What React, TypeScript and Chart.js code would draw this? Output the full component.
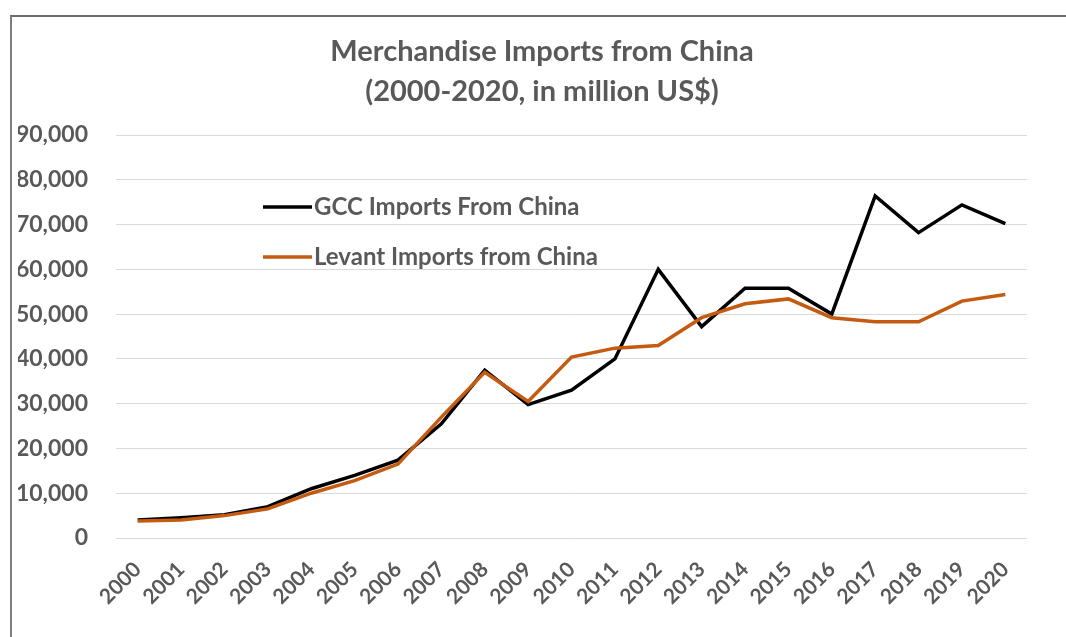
import React, { useEffect, useRef } from "react";
import { Chart, registerables } from "chart.js";

Chart.register(...registerables);

const years = [
  "2000", "2001", "2002", "2003", "2004", "2005", "2006", "2007", "2008", "2009", "2010",
  "2011", "2012", "2013", "2014", "2015", "2016", "2017", "2018", "2019", "2020",
];
const gccImports = [
  4000, 4500, 5200, 7000, 11000, 14000, 17400, 25500, 37500, 29800, 33000,
  40000, 60000, 47200, 55800, 55800, 50000, 76400, 68200, 74400, 70200,
];
const levantImports = [
  3800, 4000, 5000, 6500, 10000, 12800, 16500, 27000, 37000, 30500, 40400,
  42400, 43000, 49200, 52300, 53400, 49200, 48300, 48300, 52900, 54400,
];
const seriesLabels = ["GCC Imports From China", "Levant Imports from China"];
const titleLines = ["Merchandise Imports from China", "(2000-2020, in million US$)"];

const GRAY = "#595959";
const FONT = "Lato";

const insideLegend = {
  id: "insideLegend",
  afterDraw(chart: any) {
    const { ctx, chartArea, data } = chart;
    const x0 = chartArea.left + 147;
    const rows = [chartArea.top + 72, chartArea.top + 122];
    ctx.save();
    data.datasets.forEach((ds: any, i: number) => {
      const y = rows[i];
      ctx.strokeStyle = ds.borderColor;
      ctx.lineWidth = 3.5;
      ctx.beginPath();
      ctx.moveTo(x0, y);
      ctx.lineTo(x0 + 49, y);
      ctx.stroke();
      ctx.fillStyle = GRAY;
      ctx.font = `bold 24px ${FONT}`;
      ctx.textBaseline = "middle";
      ctx.textAlign = "left";
      ctx.fillText(ds.label, x0 + 51, y);
    });
    ctx.restore();
  },
};

export default function App() {
  const ref = useRef<HTMLCanvasElement>(null);
  useEffect(() => {
    if (!ref.current) return;
    const chart = new Chart(ref.current, {
      type: "line",
      data: {
        labels: years,
        datasets: [
          {
            label: seriesLabels[0],
            data: gccImports,
            borderColor: "#000000",
            backgroundColor: "#000000",
            borderWidth: 3.5,
            pointRadius: 0,
            tension: 0,
            order: 1,
            yAxisID: "y",
          },
          {
            label: seriesLabels[1],
            data: levantImports,
            borderColor: "#C55A11",
            backgroundColor: "#C55A11",
            borderWidth: 3.5,
            pointRadius: 0,
            tension: 0,
            order: 0,
            yAxisID: "y",
          },
        ],
      },
      options: {
        responsive: false,
        animation: false,
        layout: { padding: { left: 18, right: 0, top: 0, bottom: 0 } },
        plugins: {
          legend: { display: false },
          tooltip: { enabled: false },
          title: {
            display: true,
            text: titleLines,
            color: GRAY,
            font: { family: FONT, size: 29, weight: "bold", lineHeight: 40 / 29 },
            padding: { top: 32, bottom: 23 },
          },
        },
        scales: {
          x: {
            offset: true,
            grid: { display: false, drawTicks: false },
            border: { display: false },
            ticks: {
              color: GRAY,
              font: { family: FONT, size: 21, weight: "bold" },
              minRotation: 45,
              maxRotation: 45,
              autoSkip: false,
              padding: 19,
            },
            afterFit: (scale: any) => {
              scale.height = 99;
            },
          },
          y: {
            position: "left",
            min: 0,
            max: 90000,
            grid: { color: "#d9d9d9", lineWidth: 1, drawTicks: false },
            border: { display: false },
            ticks: {
              stepSize: 10000,
              color: GRAY,
              font: { family: FONT, size: 23, weight: "bold" },
              padding: 28,
              callback: (v: any) => Number(v).toLocaleString("en-US"),
            },
            afterFit: (scale: any) => {
              scale.width = 98;
            },
          },
          yRightSpace: {
            position: "right",
            min: 0,
            max: 1,
            grid: { display: false, drawTicks: false },
            border: { display: false },
            ticks: { display: false },
            afterFit: (scale: any) => {
              scale.width = 39;
            },
          },
        },
      },
      plugins: [insideLegend],
    });
    return () => chart.destroy();
  }, []);

  return (
    <div style={{ position: "fixed", left: 0, top: 0, width: 1066, height: 637, overflow: "hidden", background: "#fff" }}>
      <div
        style={{
          position: "absolute",
          left: 10,
          top: 15,
          width: 1056,
          height: 622,
          borderTop: "2px solid #6b6b6b",
          borderLeft: "2px solid #7f7f7f",
          boxSizing: "border-box",
        }}
      />
      <canvas ref={ref} width={1066} height={637} style={{ position: "absolute", left: 0, top: 0, display: "block" }} />
    </div>
  );
}
